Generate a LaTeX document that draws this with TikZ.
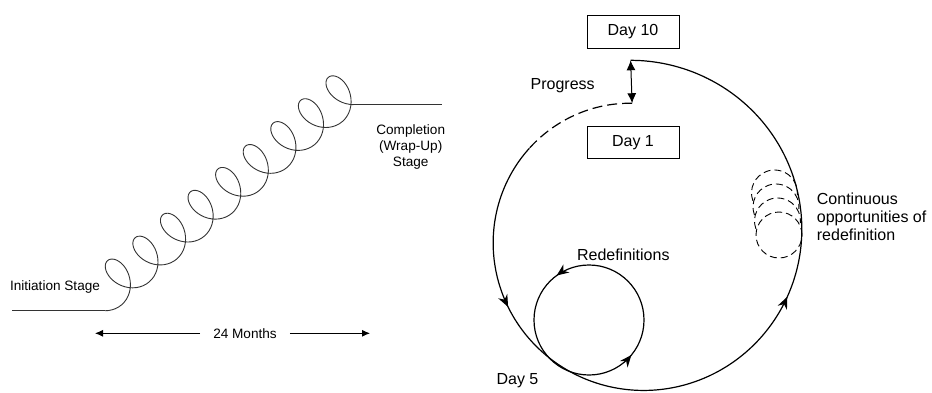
\documentclass[tikz,border=0pt]{standalone}
\usepackage{fontspec}
\setmainfont{Liberation Sans}
\usetikzlibrary{arrows.meta,decorations.markings}

\begin{document}
\begin{tikzpicture}[x=1pt,y=1pt,
  daybox/.style={draw,line width=0.8pt,minimum width=92pt,minimum height=32.6pt,inner sep=0pt,font=\fontsize{16}{18.3}\selectfont},
  smalltxt/.style={font=\fontsize{13.6}{16}\selectfont,inner sep=0pt},
  bigtxt/.style={font=\fontsize{16}{18.3}\selectfont,inner sep=0pt},
  oppcirc/.style={line width=0.9pt,dash pattern=on 7pt off 4pt},
  flow/.style={line width=1.2pt}]
\useasboundingbox (0,0) rectangle (932,392);

% coiled project line (left)
\begin{scope}[shift={(107.6,103.5)},rotate=39.7]
  \draw[black!80,line width=0.9pt] plot[smooth,domain=-0.766:55.7827,samples=361,variable=\t]
    ({5.707*\t+17*sin(\t r)},{-21.5*cos(\t r)});
  \coordinate (sp start) at ({5.707*(-0.766)+17*sin(-0.766 r)},{-21.5*cos(-0.766 r)});
  \coordinate (sp end) at ({5.707*55.7827+17*sin(55.7827 r)},{-21.5*cos(55.7827 r)});
\end{scope}
\draw[black!80,line width=0.9pt] (12,0 |- sp start) -- (sp start);
\draw[black!80,line width=0.9pt] (sp end) -- (442,0 |- sp end);

\node[smalltxt] (init) at (55,104.7) {Initiation Stage};
\node[smalltxt,align=center] (compl) at (410.7,244.7) {Completion\\(Wrap-Up)\\Stage};

% duration
\node[smalltxt,inner xsep=13pt] (months) at (245,58.7) {24 Months};
\coordinate (m left) at (95,58.7);
\coordinate (m right) at (370,58.7);
\draw[-{Latex[length=8pt,width=7pt]},line width=0.8pt] (months.west) -- (m left);
\draw[-{Latex[length=8pt,width=7pt]},line width=0.8pt] (months.east) -- (m right);

% days loop (right)
\node[daybox] (day10) at (633,360) {Day 10};
\node[daybox] (day1) at (633,249.7) {Day 1};
\node[bigtxt] (progress) at (562.7,306) {Progress};
\node[bigtxt] (redef) at (623.3,137) {Redefinitions};
\node[bigtxt] (day5) at (517.5,11.7) {Day 5};
\node[bigtxt,anchor=west,align=left] (contin) at (816.7,175.3) {Continuous\\opportunities of\\redefinition};

\begin{scope}[shift={(636.75,155.9)}]
  \draw[flow,dash pattern=on 10pt off 5pt] plot[smooth,domain=92:140.7,samples=20]
    ({(154.2+0.11944*(\x-270))*cos(\x)},{(154.2+0.11944*(\x-270))*sin(\x)});
  \draw[flow,postaction=decorate,decoration={markings,
      mark=at position 170pt with {\arrow{Stealth[length=12pt,width=10pt]}},
      mark=at position 519pt with {\arrow{Stealth[length=12pt,width=10pt]}}}]
    plot[smooth,domain=140.7:452,samples=90]
    ({(154.2+0.11944*(\x-270))*cos(\x)},{(154.2+0.11944*(\x-270))*sin(\x)});
  \coordinate (prog top) at ({(154.2+0.11944*182)*cos(452)},{(154.2+0.11944*182)*sin(452)});
  \coordinate (prog bot) at ({(154.2-0.11944*178)*cos(92)},{(154.2-0.11944*178)*sin(92)});
\end{scope}
\draw[{Latex[length=10pt,width=9pt]}-{Latex[length=10pt,width=9pt]},line width=1pt] (prog top) -- (prog bot);

% redefinition loop
\coordinate (rc) at (589,72);
\draw[flow,postaction=decorate,decoration={markings,
    mark=at position 0.35 with {\arrow{Stealth[length=12pt,width=10pt]}},
    mark=at position 0.89 with {\arrow{Stealth[length=12pt,width=10pt]}}}]
  ([shift={(55,0)}]rc) arc[start angle=0,end angle=360,radius=55];

% continuous opportunities
\foreach \cx/\cy in {774.5/199,776/185,777.5/171}
  \draw[oppcirc] ([shift={(200:23)}]\cx,\cy) arc[start angle=200,end angle=-5,radius=23];
\draw[oppcirc] (779,157) circle[radius=23];
\end{tikzpicture}
\end{document}
